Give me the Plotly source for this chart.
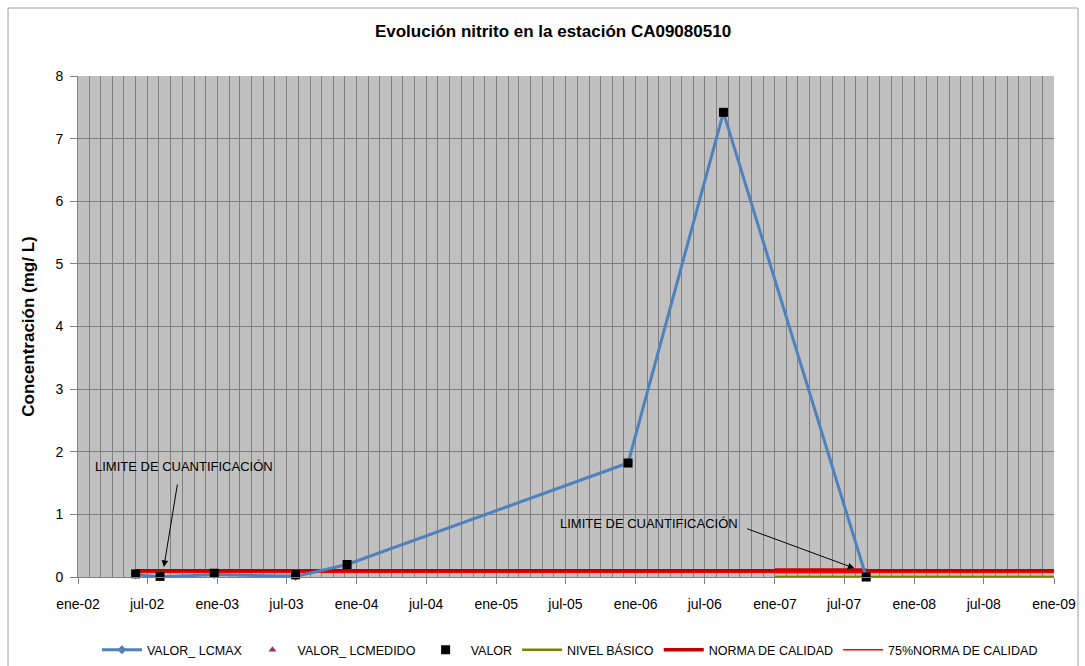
import plotly.graph_objects as go

# ---- data ----
dates = ["2002-06-01", "2002-08-04", "2002-12-24", "2003-07-25", "2003-12-07",
         "2005-12-12", "2006-08-19", "2007-08-28"]
valor = [0.05, 0.01, 0.06, 0.035, 0.2, 1.82, 7.42, 0.0]
valor_lcmax = [0.04, 0.0, 0.04, 0.01, 0.2, 1.82, 7.42, 0.0]

nivel_dates = ["2007-01-01", "2009-01-01"]
nivel_vals = [0.0, 0.0]

norma_dates = ["2002-06-01", "2009-01-01"]
norma_vals = [0.1, 0.1]
norma_seg_dates = ["2007-01-01", "2007-08-28"]
norma_seg_vals = [0.1, 0.1]

norma75_dates = ["2002-06-01", "2009-01-01"]
norma75_vals = [0.075, 0.075]

tick_vals = ["2002-01-01", "2002-07-01", "2003-01-01", "2003-07-01", "2004-01-01",
             "2004-07-01", "2005-01-01", "2005-07-01", "2006-01-01", "2006-07-01",
             "2007-01-01", "2007-07-01", "2008-01-01", "2008-07-01", "2009-01-01"]
tick_text = ["ene-02", "jul-02", "ene-03", "jul-03", "ene-04", "jul-04", "ene-05",
             "jul-05", "ene-06", "jul-06", "ene-07", "jul-07", "ene-08", "jul-08", "ene-09"]

FONT = "Liberation Sans"
NARROW = "Liberation Sans Narrow, Liberation Sans, Arial"

fig = go.Figure()

fig.add_trace(go.Scatter(x=nivel_dates, y=nivel_vals, mode="lines", name="NIVEL BÁSICO",
                         line=dict(color="#808000", width=2.5), legendrank=4, cliponaxis=False))
fig.add_trace(go.Scatter(x=norma_dates, y=norma_vals, mode="lines", name="NORMA DE CALIDAD",
                         line=dict(color="#C00000", width=3.5), legendrank=5))
fig.add_trace(go.Scatter(x=norma_seg_dates, y=norma_seg_vals, mode="lines", showlegend=False,
                         line=dict(color="#D00000", width=5), hoverinfo="skip"))
fig.add_trace(go.Scatter(x=norma75_dates, y=norma75_vals, mode="lines", name="75%NORMA DE CALIDAD",
                         line=dict(color="#FF0000", width=1.5), legendrank=6))
fig.add_trace(go.Scatter(x=dates, y=valor_lcmax, mode="lines+markers", name="VALOR_ LCMAX",
                         line=dict(color="#4F81BD", width=3),
                         marker=dict(symbol="diamond", size=7, color="#4F81BD"),
                         legendrank=1, cliponaxis=False))
fig.add_trace(go.Scatter(x=[None], y=[None], mode="markers", name="VALOR_ LCMEDIDO",
                         marker=dict(symbol="triangle-up", size=7, color="#993366"),
                         legendrank=2))
fig.add_trace(go.Scatter(x=dates, y=valor, mode="markers", name="VALOR",
                         marker=dict(symbol="square", size=9, color="#000000"),
                         legendrank=3, cliponaxis=False))

annotations = [
    dict(x="2002-10-06", y=1.77, xref="x", yref="y", text="LIMITE DE CUANTIFICACIÓN",
         showarrow=False, font=dict(family=NARROW, size=13, color="#000000")),
    dict(x="2002-08-14", y=0.16, xref="x", yref="y", ax="2002-09-19", ay=1.5,
         axref="x", ayref="y", text="", showarrow=True, arrowhead=2, arrowsize=1.3,
         arrowwidth=1, arrowcolor="#000000"),
    dict(x="2006-02-06", y=0.86, xref="x", yref="y", text="LIMITE DE CUANTIFICACIÓN",
         showarrow=False, font=dict(family=NARROW, size=13, color="#000000")),
    dict(x="2007-07-28", y=0.14, xref="x", yref="y", ax="2006-10-16", ay=0.78,
         axref="x", ayref="y", text="", showarrow=True, arrowhead=2, arrowsize=1.3,
         arrowwidth=1, arrowcolor="#000000"),
]

fig.update_layout(
    width=1085, height=666,
    margin=dict(l=78, r=31, t=76, b=89, autoexpand=False),
    paper_bgcolor="#FFFFFF",
    plot_bgcolor="#C0C0C0",
    font=dict(family=FONT, size=12, color="#000000"),
    title=dict(text="<b>Evolución nitrito en la estación CA09080510</b>",
               xref="container", yref="container",
               x=0.5097, xanchor="center", y=0.953, yanchor="middle",
               font=dict(family=NARROW, size=17, color="#000000")),
    showlegend=True,
    legend=dict(orientation="h", x=0.504, xanchor="center", y=-0.146, yanchor="middle",
                font=dict(family=NARROW, size=12.5), bgcolor="rgba(0,0,0,0)",
                itemwidth=40, tracegroupgap=0),
    annotations=annotations,
    shapes=[dict(type="rect", xref="paper", yref="paper", x0=-0.0717, x1=1.0246,
                 y0=-0.19, y1=1.1357, line=dict(color="#A0A0A0", width=1), layer="below")],
)

fig.update_xaxes(
    type="date",
    range=["2002-01-01", "2009-01-01"],
    tickvals=tick_vals, ticktext=tick_text,
    ticks="outside", ticklen=6, tickcolor="#808080",
    ticklabelstandoff=8,
    showgrid=False,
    showline=True, linecolor="#808080", linewidth=1,
    tickfont=dict(family=FONT, size=14),
    minor=dict(dtick="M1", tick0="2002-01-01", showgrid=True, gridcolor="#808080", gridwidth=1),
    zeroline=False,
    automargin=False,
)
fig.update_yaxes(
    range=[0, 8], dtick=1,
    ticks="outside", ticklen=7, tickcolor="#808080",
    ticklabelstandoff=4,
    showgrid=True, gridcolor="#808080", gridwidth=1,
    showline=True, linecolor="#808080", linewidth=1,
    zeroline=False,
    tickfont=dict(family=FONT, size=14),
    title=dict(text="<b>Concentración (mg/ L)</b>", font=dict(family=NARROW, size=17), standoff=16),
    automargin=False,
)

fig.write_html("out.html", config={"displayModeBar": False},
               post_script="document.body.style.margin='0';document.body.style.padding='0';")
